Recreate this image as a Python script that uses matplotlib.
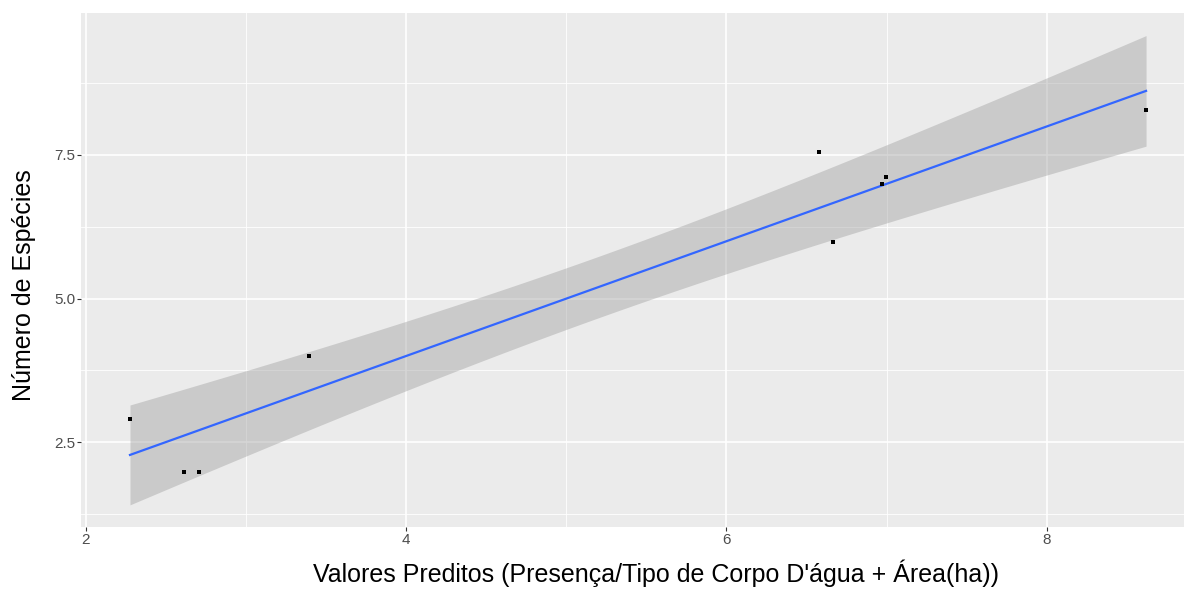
import matplotlib
matplotlib.use("Agg")
import matplotlib.pyplot as plt
import numpy as np

# predicted values vs observed species count
predicted = [2.275, 2.614, 2.708, 3.393, 6.578, 6.666, 6.972, 6.997, 8.621]
n_species = [2.906, 1.99, 1.99, 3.997, 7.557, 5.99, 7.0, 7.117, 8.28]

x_ticks = [2, 4, 6, 8]
y_ticks = [2.5, 5.0, 7.5]
y_ticklabels = ["2.5", "5.0", "7.5"]

xlabel = "Valores Preditos (Presença/Tipo de Corpo D'água + Área(ha))"
ylabel = "Número de Espécies"

T_975_DF7 = 2.3646  # t quantile for 95% band, n-2 = 7


def fit_band(x, y, npts=80):
    x = np.asarray(x)
    y = np.asarray(y)
    slope, icpt = np.polyfit(x, y, 1)
    resid = y - (slope * x + icpt)
    s = np.sqrt(np.sum(resid ** 2) / (len(x) - 2))
    sxx = np.sum((x - x.mean()) ** 2)
    xs = np.linspace(x.min(), x.max(), npts)
    ys = slope * xs + icpt
    se = s * np.sqrt(1 / len(x) + (xs - x.mean()) ** 2 / sxx)
    return xs, ys, ys - T_975_DF7 * se, ys + T_975_DF7 * se


def main():
    plt.rcParams['font.family'] = ['Liberation Sans', 'DejaVu Sans']
    W, H = 1184, 598
    fig = plt.figure(figsize=(W / 100, H / 100), dpi=100)
    ax = fig.add_axes([81 / W, 71 / H, 1 - 81 / W, 514 / H])
    ax.set_facecolor('#EBEBEB')
    for sp in ax.spines.values():
        sp.set_visible(False)

    xs, ys, lo, hi = fit_band(predicted, n_species)
    ax.fill_between(xs, lo, hi, color='#999999', alpha=0.4, lw=0, zorder=2)
    ax.plot(xs, ys, '-', color='#3366FF', lw=1.6, zorder=3)
    ax.plot(predicted, n_species, 's', color='k', ms=3.2, mew=0, zorder=4)

    ax.set_xlim(1.969, 8.858)
    ax.set_ylim(1.026, 9.971)

    ax.set_xticks(x_ticks)
    ax.set_xticks([3, 5, 7], minor=True)
    ax.set_yticks(y_ticks)
    ax.set_yticklabels(y_ticklabels)
    ax.set_yticks([1.25, 3.75, 6.25, 8.75], minor=True)
    ax.grid(which='major', color='white', lw=1.2, zorder=1)
    ax.grid(which='minor', color='white', lw=0.6, zorder=1)
    ax.set_axisbelow(True)

    ax.tick_params(which='major', length=3, width=0.8, color='#333333',
                   labelcolor='#4D4D4D', labelsize=11, pad=1)
    ax.tick_params(which='minor', length=0)

    ax.set_xlabel(xlabel, fontsize=18, color='black', va='center')
    ax.set_ylabel(ylabel, fontsize=18, color='black', va='center')
    # label centres measured on the picture, in pixels
    ax.xaxis.set_label_coords((656 - 81) / (W - 81), (H - 573 - 71) / 514)
    ax.yaxis.set_label_coords((24 - 81) / (W - 81), (H - 285 - 71) / 514)

    fig.savefig("out.png", dpi=100)


if __name__ == "__main__":
    main()
